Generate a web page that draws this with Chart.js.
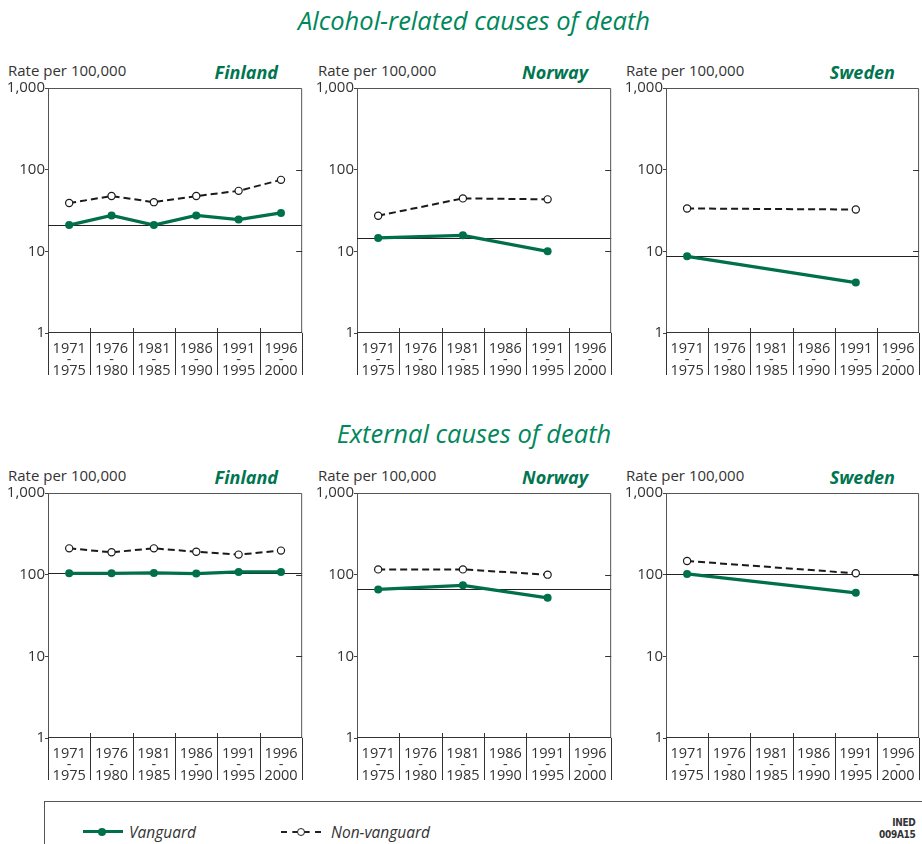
<!DOCTYPE html>
<html>
<head>
<meta charset="utf-8">
<script src="https://cdn.jsdelivr.net/npm/chart.js@4.4.1/dist/chart.umd.min.js"></script>
<style>
  body { margin: 0; width: 922px; height: 844px; overflow: hidden; background: #fff; position: relative; font-family: "Open Sans", sans-serif; color: #333; }
  .title { position: absolute; left: 224px; width: 500px; text-align: center; font-style: italic; font-size: 25.5px; line-height: 30px; color: #00875c; }
  .rate { position: absolute; font-size: 15px; line-height: 18px; color: #333; }
  .country { position: absolute; width: 120px; text-align: right; font-weight: 700; font-style: italic; font-size: 18px; line-height: 22px; color: #00754f; }
  canvas { position: absolute; }
  #legend { position: absolute; left: 44px; top: 801px; width: 900px; height: 60px; border: 1px solid #555; }
  .item { position: absolute; top: 20px; font-style: italic; font-size: 15.5px; line-height: 20px; color: #333; }
  .sym { position: absolute; width: 40px; height: 0; }
  .sym.v { border-top: 3px solid #00704a; top: 28px; }
  .sym.nv { border-top: 2px dashed #222; top: 29px; }
  .dot { position: absolute; left: 15px; width: 8px; height: 8px; border-radius: 50%; }
  .sym.v .dot { top: -5.5px; background: #00704a; }
  .sym.nv .dot { top: -5px; width: 6px; height: 6px; background: #fff; border: 1.3px solid #222; left: 16px; }
  #ined { position: absolute; top: 15px; text-align: right; font-family: "DejaVu Sans Condensed", "DejaVu Sans", sans-serif; font-weight: 700; font-size: 10px; line-height: 12px; color: #333; letter-spacing: -0.3px; }
</style>
</head>
<body>

<div class="title" style="top:5px">Alcohol-related causes of death</div>
<div class="title" style="top:418px">External causes of death</div>

<div class="rate" style="left:8px;top:61px">Rate per 100,000</div>
<div class="rate" style="left:318px;top:61px">Rate per 100,000</div>
<div class="rate" style="left:626px;top:61px">Rate per 100,000</div>
<div class="rate" style="left:8px;top:466px">Rate per 100,000</div>
<div class="rate" style="left:318px;top:466px">Rate per 100,000</div>
<div class="rate" style="left:626px;top:466px">Rate per 100,000</div>

<div class="country" style="left:158px;top:61px">Finland</div>
<div class="country" style="left:468px;top:61px">Norway</div>
<div class="country" style="left:775px;top:61px">Sweden</div>
<div class="country" style="left:158px;top:466px">Finland</div>
<div class="country" style="left:468px;top:466px">Norway</div>
<div class="country" style="left:775px;top:466px">Sweden</div>

<canvas id="alc-fin" width="308" height="301" style="left:0;top:78px"></canvas>
<canvas id="alc-nor" width="308" height="301" style="left:309px;top:78px"></canvas>
<canvas id="alc-swe" width="307" height="301" style="left:618px;top:78px"></canvas>
<canvas id="ext-fin" width="308" height="301" style="left:0;top:483px"></canvas>
<canvas id="ext-nor" width="308" height="301" style="left:309px;top:483px"></canvas>
<canvas id="ext-swe" width="307" height="301" style="left:618px;top:483px"></canvas>

<div id="legend">
  <div class="sym v" style="left:38px"><span class="dot"></span></div>
  <div class="item" style="left:84px">Vanguard</div>
  <div class="sym nv" style="left:236px"><span class="dot"></span></div>
  <div class="item" style="left:286px">Non-vanguard</div>
  <div id="ined" style="left:834px">INED<br>009A15</div>
</div>

<script>
// five-year periods along the bottom, split over three lines
const periods = [
    ['1971', '-', '1975'], ['1976', '-', '1980'], ['1981', '-', '1985'],
    ['1986', '-', '1990'], ['1991', '-', '1995'], ['1996', '-', '2000']
];
const yTicks = [1, 10, 100, 1000];

// alcohol-related deaths, rate per 100,000
const alcFinVanguard = [21, 27.5, 21, 27.5, 24.5, 29.5];
const alcFinOther = [39, 47.5, 40, 47.5, 55, 75];
const alcNorVanguard = [14.6, null, 15.7, null, 10, null];
const alcNorOther = [27.3, null, 44.5, null, 43.3, null];
const alcSweVanguard = [8.7, null, null, null, 4.15, null];
const alcSweOther = [33.5, null, null, null, 32.5, null];

// external causes, rate per 100,000
const extFinVanguard = [104, 104, 105, 103, 108, 108];
const extFinOther = [210, 188, 210, 191, 176, 197];
const extNorVanguard = [66, null, 74, null, 52, null];
const extNorOther = [116, null, 116, null, 100, null];
const extSweVanguard = [102, null, null, null, 60, null];
const extSweOther = [147, null, null, null, 104, null];

const GREEN = '#00704a';
const FRAME = '#555';

// box round the plot, period separators under it, right-hand ticks,
// and a flat line at the vanguard's starting level
const panelFrame = {
    id: 'panelFrame',
    beforeDatasetsDraw(chart) {
        const { ctx, chartArea: a, scales: { y } } = chart;
        const start = chart.data.datasets[0].data[0];
        ctx.save();
        ctx.strokeStyle = '#222';
        ctx.lineWidth = 1;
        const ry = Math.round(y.getPixelForValue(start)) + 0.5;
        ctx.beginPath();
        ctx.moveTo(a.left, ry);
        ctx.lineTo(a.right, ry);
        ctx.stroke();
        ctx.restore();
    },
    afterDraw(chart) {
        const { ctx, chartArea: a, scales: { x, y } } = chart;
        ctx.save();
        ctx.strokeStyle = FRAME;
        ctx.lineWidth = 1;
        ctx.beginPath();
        ctx.moveTo(a.left, a.top + 0.5);
        ctx.lineTo(a.right - 0.5, a.top + 0.5);
        ctx.lineTo(a.right - 0.5, a.bottom);
        ctx.stroke();
        ctx.strokeStyle = '#333';
        ctx.beginPath();
        ctx.moveTo(a.left, a.bottom - 0.5);
        ctx.lineTo(a.right, a.bottom - 0.5);
        const half = (x.getPixelForValue(1) - x.getPixelForValue(0)) / 2;
        for (let i = 0; i <= periods.length; i++) {
            const px = Math.round(x.getPixelForValue(i) - half) + 0.5;
            const top = (i === 0 || i === periods.length) ? a.bottom : a.bottom - 5;
            ctx.moveTo(px, top);
            ctx.lineTo(px, a.bottom + 42);
        }
        [10, 100].forEach((v) => {
            const py = Math.round(y.getPixelForValue(v)) + 0.5;
            ctx.moveTo(a.right, py);
            ctx.lineTo(a.right - 6, py);
        });
        ctx.stroke();
        ctx.restore();
    }
};

function makePanel(id, vanguard, other, plotWidth) {
    const canvas = document.getElementById(id);
    return new Chart(canvas.getContext('2d'), {
        type: 'line',
        data: {
            labels: periods,
            datasets: [
                {
                    label: 'Vanguard', data: vanguard,
                    borderColor: GREEN, backgroundColor: GREEN, borderWidth: 3.3,
                    pointRadius: 4, pointBorderWidth: 0, pointBackgroundColor: GREEN,
                    spanGaps: true, tension: 0
                },
                {
                    label: 'Non-vanguard', data: other,
                    borderColor: '#1a1a1a', borderWidth: 2, borderDash: [7, 4],
                    pointRadius: 3.6, pointBorderWidth: 1.2, pointBorderColor: '#1a1a1a',
                    pointBackgroundColor: '#fff', spanGaps: true, tension: 0
                }
            ]
        },
        options: {
            responsive: false,
            animation: false,
            devicePixelRatio: 1,
            layout: { padding: { top: 10, right: canvas.width - 48 - plotWidth, left: 0, bottom: 0 } },
            plugins: { legend: { display: false }, tooltip: { enabled: false } },
            scales: {
                x: {
                    type: 'category',
                    offset: true,
                    grid: { display: false, drawTicks: false },
                    border: { display: false },
                    ticks: {
                        autoSkip: false, maxRotation: 0, padding: 10, color: '#333',
                        font: { family: 'Open Sans', size: 14.5, lineHeight: '11px' }
                    },
                    afterFit: (s) => { s.height = 46; }
                },
                y: {
                    type: 'logarithmic',
                    min: 1,
                    max: 1000,
                    grid: { drawOnChartArea: false, tickLength: 3, color: '#444' },
                    border: { display: true, color: FRAME, width: 1 },
                    ticks: {
                        padding: 0, color: '#333',
                        font: { family: 'Open Sans', size: 15 },
                        callback: (v) => Number(v).toLocaleString('en-US')
                    },
                    afterBuildTicks: (s) => { s.ticks = yTicks.map((v) => ({ value: v })); },
                    afterFit: (s) => { s.width = 48; }
                }
            }
        },
        plugins: [panelFrame]
    });
}

makePanel('alc-fin', alcFinVanguard, alcFinOther, 256);
makePanel('alc-nor', alcNorVanguard, alcNorOther, 256);
makePanel('alc-swe', alcSweVanguard, alcSweOther, 255);
makePanel('ext-fin', extFinVanguard, extFinOther, 256);
makePanel('ext-nor', extNorVanguard, extNorOther, 256);
makePanel('ext-swe', extSweVanguard, extSweOther, 255);
</script>
</body>
</html>
